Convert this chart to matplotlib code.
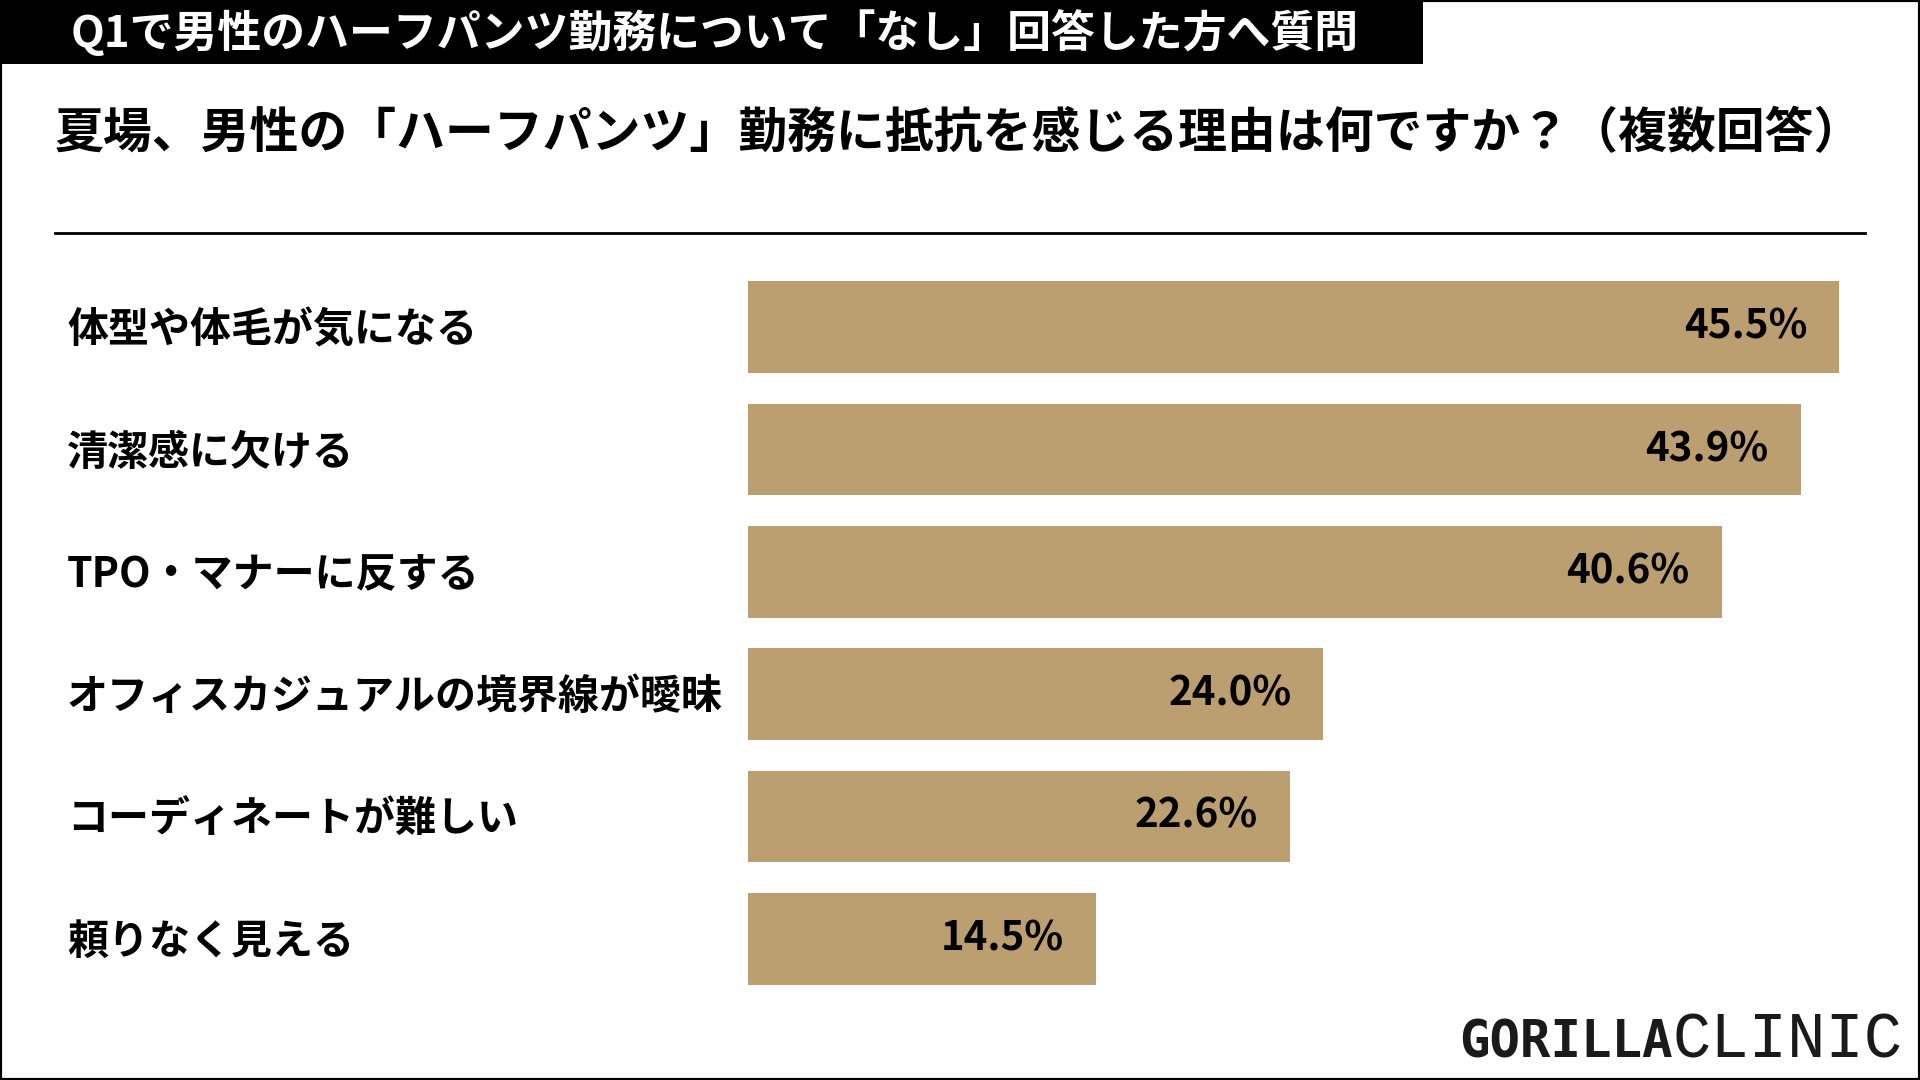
import matplotlib
matplotlib.use('Agg')
import matplotlib.pyplot as plt
from matplotlib.patches import Rectangle
from matplotlib.transforms import blended_transform_factory, offset_copy

plt.rcParams['font.family'] = ['Noto Sans CJK JP', 'DejaVu Sans']

banner_text = 'Q1で男性のハーフパンツ勤務について「なし」回答した方へ質問'
question = '夏場、男性の「ハーフパンツ」勤務に抵抗を感じる理由は何ですか？（複数回答）'
reasons = [
    '体型や体毛が気になる',
    '清潔感に欠ける',
    'TPO・マナーに反する',
    'オフィスカジュアルの境界線が曖昧',
    'コーディネートが難しい',
    '頼りなく見える',
]
shares = [45.5, 43.9, 40.6, 24.0, 22.6, 14.5]

BAR_COLOR = '#BC9F70'
W, H = 1920, 1080


def px(x, y):
    """pixel position from top-left -> figure fraction"""
    return x / W, 1 - y / H


def main() -> None:
    fig = plt.figure(figsize=(19.2, 10.8), dpi=100)
    fig.patch.set_facecolor('white')

    # black banner at the top
    fig.patches.append(Rectangle(px(0, 64), 1423 / W, 64 / H, transform=fig.transFigure,
                                 facecolor='black', edgecolor='none', zorder=1))
    fig.text(*px(71, 33), banner_text, color='white', fontsize=31.6, fontweight='bold',
             ha='left', va='center', zorder=2)

    fig.text(*px(55, 134), question, color='black', fontsize=35.2, fontweight='bold',
             ha='left', va='center')

    # separator under the question
    fig.add_artist(plt.Line2D([55 / W, 1865 / W], [1 - 233 / H] * 2, color='black',
                              linewidth=2, transform=fig.transFigure))

    # outer frame
    fig.patches.append(Rectangle((0, 0), 1, 1, transform=fig.transFigure, fill=False,
                                 edgecolor='black', linewidth=3, zorder=5))

    # bars
    left, right = 748, 1868
    top, bottom = 266, 1000
    ax = fig.add_axes([left / W, 1 - bottom / H, (right - left) / W, (bottom - top) / H])
    scale = 1091 / 45.5
    ax.set_xlim(0, (right - left) / scale)
    ax.set_ylim(len(reasons) - 0.5, -0.5)
    ypos = list(range(len(reasons)))
    ax.barh(ypos, shares, height=0.75, color=BAR_COLOR)
    ax.axis('off')

    trans = blended_transform_factory(fig.transFigure, ax.transData)
    trans = offset_copy(trans, fig=fig, y=-3, units='dots')
    for i, (label, v) in enumerate(zip(reasons, shares)):
        ax.text(67 / W, i, label, transform=trans, ha='left', va='center',
                fontsize=29.5, fontweight='bold', color='black')
        ax.annotate(f'{v:.1f}%', xy=(v, i), xytext=(-23, 0), textcoords='offset points',
                    ha='right', va='center', fontsize=29, fontweight='bold', color='black')

    # logo
    fig.text(*px(1673, 1058), 'GORILLA', family='DejaVu Sans Mono', fontweight='bold',
             fontsize=36.5, ha='right', va='baseline', color='#1a1a1a')
    fig.text(*px(1673, 1058), 'CLINIC', family='Liberation Mono', fontweight='normal',
             fontsize=46, ha='left', va='baseline', color='#1a1a1a')

    fig.savefig('out.png', dpi=100)


if __name__ == '__main__':
    main()
